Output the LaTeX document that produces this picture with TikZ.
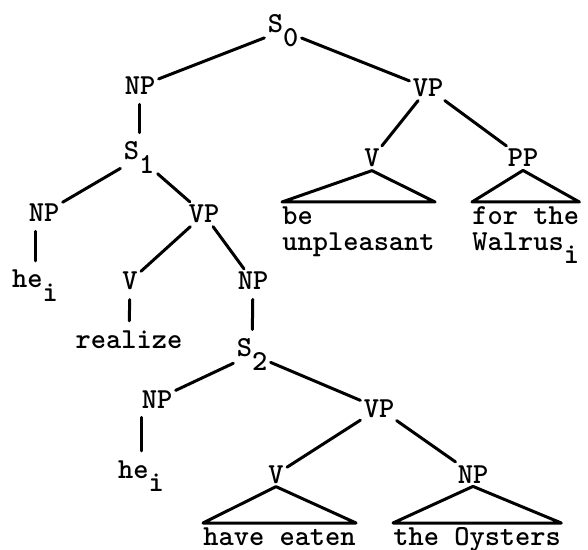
\documentclass[tikz,border=0pt]{standalone}
\usetikzlibrary{calc}
\newcommand{\lowr}[1]{\raisebox{-0.45em}{#1}}

\begin{document}
\begin{tikzpicture}[x=0.5pt,y=-0.5pt,
    lbl/.style={font=\ttfamily\bfseries\fontsize{14.5}{13}\selectfont, inner sep=1.5pt, anchor=base},
    leaf/.style={font=\ttfamily\bfseries\fontsize{14.5}{13}\selectfont, inner xsep=0pt, inner ysep=2pt, anchor=north west, align=left},
    edge/.style={line width=1.5pt, line cap=round, line join=round},
    bar/.style={edge, shorten <=3pt, shorten >=3pt}]
    \useasboundingbox (0,0) rectangle (588,550);
    %%top_level
    \node[lbl] (s0) at (283,33) {S\lowr{0}};
    \node[lbl] (np1) at (140,95) {NP};
    \node[lbl] (vp3) at (428,97) {VP};
    \draw[edge] (s0) -- (np1);
    \draw[edge] (s0) -- (vp3);
    %%main_predicate
    \node[lbl] (v3) at (372,167) {V};
    \node[lbl] (pp) at (523,167) {PP};
    \node[leaf] (be) at (282,202) {be\\unpleasant};
    \node[leaf] (walrus) at (472,202) {for the\\Walrus\lowr{i}};
    \draw[edge] (vp3) -- (v3);
    \draw[edge] (vp3) -- (pp);
    \draw[edge] (v3.south) -- (be.north west) -- (be.north east) -- cycle;
    \draw[edge] (pp.south) -- (walrus.north west) -- (walrus.north east) -- cycle;
    %%subject_clause
    \node[lbl] (s1) at (139,160) {S\lowr{1}};
    \node[lbl] (np2) at (44,222) {NP};
    \node[lbl] (vp1) at (204,223) {VP};
    \node[lbl] (he1) at (35,288) {he\lowr{i}};
    \node[lbl] (v1) at (130,290) {V};
    \node[lbl] (np3) at (253,290) {NP};
    \node[lbl] (realize) at (129,348) {realize};
    \draw[bar] (np1.south -| s1) -- (s1);
    \draw[edge] (s1) -- (np2);
    \draw[edge] (s1) -- (vp1);
    \draw[bar] (np2.south -| he1) -- (he1);
    \draw[edge] (vp1) -- (v1);
    \draw[edge] (vp1) -- (np3);
    \draw[bar] (v1) -- (realize);
    %%embedded_clause
    \node[lbl] (s2) at (252,357) {S\lowr{2}};
    \node[lbl] (np4) at (157,408) {NP};
    \node[lbl] (vp2) at (379,417) {VP};
    \node[lbl] (he2) at (141,478) {he\lowr{i}};
    \node[lbl] (v2) at (276,483) {V};
    \node[lbl] (np5) at (473,483) {NP};
    \node[leaf] (eaten) at (203,523) {have eaten};
    \node[leaf] (oysters) at (393,523) {the Oysters};
    \draw[bar] (np3) -- (s2);
    \draw[edge] (s2) -- (np4);
    \draw[edge] (s2) -- (vp2);
    \draw[bar] (np4.south -| he2) -- (he2);
    \draw[edge] (vp2) -- (v2);
    \draw[edge] (vp2) -- (np5);
    \draw[edge] (v2.south) -- (eaten.north west) -- (eaten.north east) -- cycle;
    \draw[edge] (np5.south) -- (oysters.north west) -- (oysters.north east) -- cycle;
\end{tikzpicture}
\end{document}
